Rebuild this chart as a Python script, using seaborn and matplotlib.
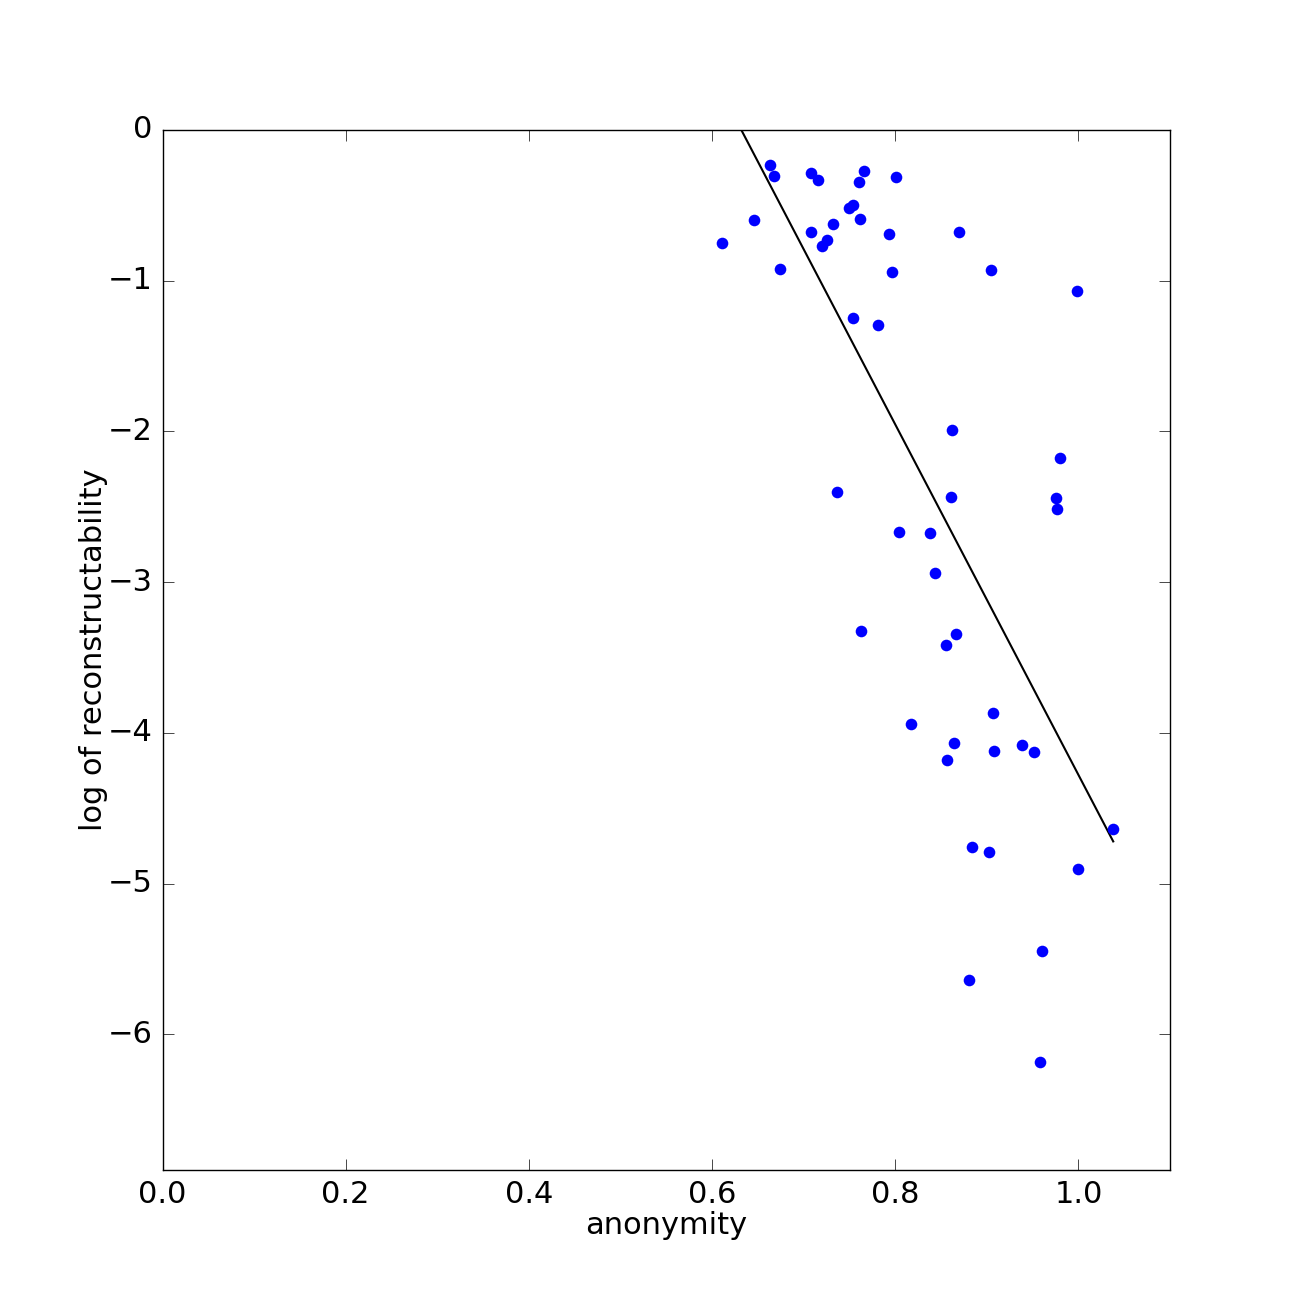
import matplotlib
matplotlib.use("Agg")
import matplotlib.pyplot as plt
import seaborn as sns
import pandas as pd

anonymity = [0.611, 0.646, 0.663, 0.668, 0.674, 0.708, 0.716, 0.708, 0.720, 0.725,
             0.732, 0.749, 0.754, 0.760, 0.766, 0.761, 0.801, 0.793, 0.797, 0.754,
             0.781, 0.870, 0.905, 0.999, 0.862, 0.980, 0.861, 0.976, 0.977, 0.736,
             0.804, 0.838, 0.843, 0.763, 0.866, 0.855, 0.907, 0.817, 0.864, 0.938,
             0.908, 0.952, 0.856, 1.038, 0.884, 0.902, 1.000, 0.960, 0.880, 0.958]
log_recon = [-0.750, -0.598, -0.232, -0.305, -0.923, -0.286, -0.332, -0.677, -0.770, -0.730,
             -0.624, -0.518, -0.498, -0.345, -0.272, -0.591, -0.312, -0.691, -0.943, -1.248,
             -1.295, -0.677, -0.930, -1.069, -1.992, -2.178, -2.437, -2.444, -2.517, -2.404,
             -2.669, -2.676, -2.942, -3.327, -3.347, -3.420, -3.871, -3.944, -4.064, -4.077,
             -4.117, -4.124, -4.177, -4.635, -4.754, -4.788, -4.900, -5.445, -5.637, -6.182]

fit_x = [0.611, 1.038]
fit_y = [0.244, -4.720]

plt.style.use("classic")
plt.rcParams["font.family"] = ["DejaVu Sans"]

df = pd.DataFrame({"anonymity": anonymity, "log of reconstructability": log_recon})
fit = pd.DataFrame({"x": fit_x, "y": fit_y})

fig = plt.figure(figsize=(13, 13), dpi=100, facecolor="white")
ax = fig.add_subplot(111)
fig.subplots_adjust(left=0.125, right=0.9, bottom=0.1, top=0.9)

sns.scatterplot(data=df, x="anonymity", y="log of reconstructability", ax=ax,
                color="#0000ff", s=70, linewidth=0, zorder=3)
sns.lineplot(data=fit, x="x", y="y", ax=ax, color="black", linewidth=1.5,
             estimator=None, sort=False, zorder=2)

ax.set_xlim(0, 1.1)
ax.set_ylim(-6.9, 0)
ax.set_xticks([0.0, 0.2, 0.4, 0.6, 0.8, 1.0])
ax.set_yticks([0, -1, -2, -3, -4, -5, -6])
ax.set_xticklabels(["0.0", "0.2", "0.4", "0.6", "0.8", "1.0"])
ax.set_yticklabels(["0", "\u22121", "\u22122", "\u22123", "\u22124", "\u22125", "\u22126"])
ax.tick_params(labelsize=22, direction="in", length=8, top=True, right=True, pad=7)
ax.set_xlabel("anonymity", fontsize=22, labelpad=2)
ax.set_ylabel("log of reconstructability", fontsize=22, labelpad=0)
for sp in ax.spines.values():
    sp.set_linewidth(1.0)
    sp.set_color("black")

fig.savefig("out.png", dpi=100, facecolor="white")
